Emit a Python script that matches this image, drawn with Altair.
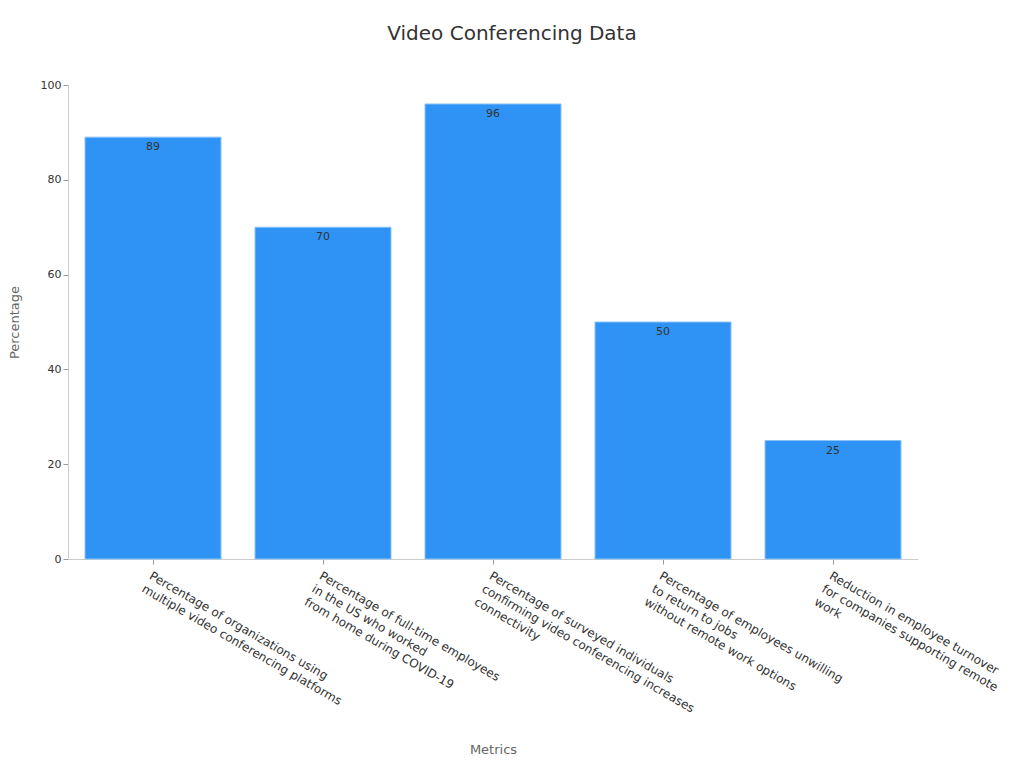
import altair as alt
import pandas as pd

categories = [
    "Percentage of organizations using|multiple video conferencing platforms",
    "Percentage of full-time employees|in the US who worked|from home during COVID-19",
    "Percentage of surveyed individuals|confirming video conferencing increases|connectivity",
    "Percentage of employees unwilling|to return to jobs|without remote work options",
    "Reduction in employee turnover|for companies supporting remote|work",
]
values = [89, 70, 96, 50, 25]

df = pd.DataFrame({"Metric": categories, "Value": values})

font = "DejaVu Sans"

x = alt.X(
    "Metric:N",
    sort=categories,
    title="Metrics",
    scale=alt.Scale(paddingInner=0.2, paddingOuter=0.1),
    axis=alt.Axis(
        labelAngle=30,
        labelAlign="left",
        labelBaseline="top",
        labelExpr="split(datum.label, '|')",
        labelFontSize=12,
        labelLineHeight=15,
        labelColor="#333333",
        labelFont=font,
        labelLimit=400,
        titleFont=font,
        titleFontSize=13,
        titleFontWeight="normal",
        titleColor="#666666",
        titlePadding=16,
        domainColor="#cccccc",
        tickColor="#999999",
        labelPadding=6,
    ),
)
y = alt.Y(
    "Value:Q",
    title="Percentage",
    scale=alt.Scale(domain=[0, 100]),
    axis=alt.Axis(
        values=[0, 20, 40, 60, 80, 100],
        grid=False,
        labelFontSize=11,
        labelColor="#333333",
        labelFont=font,
        titleFont=font,
        titleFontSize=13,
        titleFontWeight="normal",
        titleColor="#666666",
        titlePadding=19,
        domainColor="#cccccc",
        tickColor="#999999",
    ),
)

bars = alt.Chart(df).mark_bar(color="#2E93F5", stroke="#8cc4fa", strokeWidth=1).encode(x=x, y=y)
text = alt.Chart(df).mark_text(
    baseline="top", dy=4, fontSize=11, color="#333333", font=font
).encode(x=alt.X("Metric:N", sort=categories), y="Value:Q", text="Value:Q")

chart = (
    alt.layer(bars, text)
    .properties(
        width=850,
        height=474,
        padding={"left": 0, "top": 16, "right": 5, "bottom": 5},
        title=alt.TitleParams(
            "Video Conferencing Data",
            font=font,
            fontSize=20,
            fontWeight="normal",
            color="#333333",
            offset=35,
            dx=19,
        ),
    )
    .configure_view(stroke=None)
)

chart.save("out.html", embed_options={"renderer": "svg", "actions": False})
